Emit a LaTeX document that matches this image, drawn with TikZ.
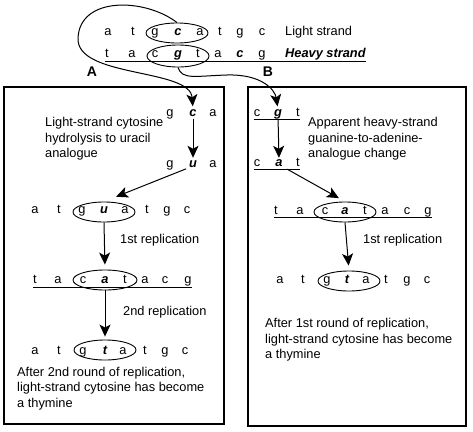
\documentclass[tikz,border=0pt]{standalone}
\usepackage{fontspec}
\setmainfont{Liberation Sans}
\usetikzlibrary{arrows.meta, shapes.geometric}
\tikzstyle{letter} = [
    inner sep=0pt,
    text height=7pt,
    text depth=0pt,
    font=\fontsize{12.8}{15.6}\selectfont
]
\tikzstyle{hit} = [
    letter,
    font=\fontsize{12.8}{15.6}\selectfont\bfseries\itshape
]
\tikzstyle{ring} = [
    ellipse,
    draw=black,
    line width=0.9pt,
    inner sep=0pt,
    minimum width=62pt,
    minimum height=20pt
]
% base of a note = baseline of its last line
\tikzstyle{note} = [
    inner sep=0pt,
    anchor=base west,
    align=left,
    font=\fontsize{12.8}{15.6}\selectfont
]
\tikzstyle{tag} = [
    inner sep=0pt,
    font=\fontsize{14}{16}\selectfont\bfseries
]
\tikzstyle{flow} = [
    line width=1pt,
    -{Stealth[length=12pt, width=11pt, inset=3pt]}
]
\tikzstyle{panel} = [line width=1.1pt]
\tikzstyle{rule} = [line width=0.8pt]

\begin{document}
\begin{tikzpicture}[x=1pt, y=-1pt]
\useasboundingbox (0,0) rectangle (473,431);

% the two strands at the top
\foreach \x/\ch/\s [count=\i] in {108/a/letter,133/t/letter,155/g/letter,178/c/hit,200/a/letter,220/t/letter,240/g/letter,262/c/letter}
    \node[\s] (L\i) at (\x,32) {\ch};
\foreach \x/\ch/\s [count=\i] in {107/t/letter,132/a/letter,155/c/letter,178/g/hit,198/t/letter,218/a/letter,240/c/hit,262/g/letter}
    \node[\s] (H\i) at (\x,54) {\ch};
\node[letter, anchor=west] (light) at (285,32) {Light strand};
\node[hit, anchor=west] (heavy) at (285,54) {Heavy strand};
\draw[rule] ([yshift=-3.5pt]H1.south west) -- ([yshift=-3.5pt]heavy.south east);
\node[ring] (top) at (177,33) {};
\node[ring, minimum height=22pt] (bottom) at (178,56) {};

\node[tag] (labA) at (92,72) {A};
\node[tag] (labB) at (268,72) {B};

% panels
\draw[panel] (4,87) rectangle (224,424);
\draw[panel] (248,87) rectangle (466,426);

% panel A
\foreach \x/\ch/\s [count=\i] in {170/g/letter,193/c/hit,213/a/letter}
    \node[\s] (A\i) at (\x,113) {\ch};
\foreach \x/\ch/\s [count=\i] in {170/g/letter,193/u/hit,213/a/letter}
    \node[\s] (U\i) at (\x,164) {\ch};
\node[note] (hydro) at (45,157.7) {Light-strand cytosine\\hydrolysis to uracil\\analogue};

\foreach \x/\ch/\s [count=\i] in {35/a/letter,59/t/letter,82/g/letter,104/u/hit,125/a/letter,147/t/letter,167/g/letter,187/c/letter}
    \node[\s] (S\i) at (\x,210) {\ch};
\node[ring] (ringS) at (104,212) {};
\node[note] (repA1) at (120,243.5) {1st replication};

\foreach \x/\ch/\s [count=\i] in {35/t/letter,58/a/letter,83/c/letter,105/a/hit,125/t/letter,145/a/letter,165/c/letter,188/g/letter}
    \node[\s] (D\i) at (\x,280) {\ch};
\draw[rule] ([yshift=-3.5pt]D1.south west) -- ([yshift=-3.5pt]D8.south east);
\node[ring, minimum width=64pt] (ringD) at (105,280) {};
\node[note] (repA2) at (123,315.5) {2nd replication};

\foreach \x/\ch/\s [count=\i] in {35/a/letter,59/t/letter,83/g/letter,105/t/hit,123/a/letter,145/t/letter,165/g/letter,185/c/letter}
    \node[\s] (T\i) at (\x,351) {\ch};
\node[ring] (ringT) at (105,350) {};
\node[note] (afterA) at (17,407.2) {After 2nd round of replication,\\light-strand cytosine has become\\a thymine};

% panel B
\foreach \x/\ch/\s [count=\i] in {257/c/letter,278/g/hit,298/t/letter}
    \node[\s] (B\i) at (\x,113) {\ch};
\draw[rule] ([yshift=-2.5pt]B1.south west) -- ([yshift=-2.5pt]B3.south east);
\foreach \x/\ch/\s [count=\i] in {257/c/letter,279/a/hit,298/t/letter}
    \node[\s] (C\i) at (\x,163) {\ch};
\draw[rule] ([yshift=-2.5pt]C1.south west) -- ([yshift=-2.5pt]C3.south east);
\node[note] (apparent) at (308,157.7) {Apparent heavy-strand\\guanine-to-adenine-\\analogue change};

\foreach \x/\ch/\s [count=\i] in {276/t/letter,300/a/letter,325/c/letter,345/a/hit,365/t/letter,385/a/letter,407/c/letter,428/g/letter}
    \node[\s] (R\i) at (\x,211) {\ch};
\draw[rule] ([yshift=-2.5pt]R1.south west) -- ([yshift=-2.5pt]R8.south east);
\node[ring] (ringR) at (345,212) {};
\node[note] (repB1) at (363,243.5) {1st replication};

\foreach \x/\ch/\s [count=\i] in {280/a/letter,303/t/letter,327/g/letter,347/t/hit,366/a/letter,386/t/letter,407/g/letter,427/c/letter}
    \node[\s] (Q\i) at (\x,280) {\ch};
\node[ring] (ringQ) at (349,281) {};
\node[note] (afterB) at (265,358.7) {After 1st round of replication,\\light-strand cytosine has become\\a thymine};

% connectors
\draw[flow, shorten >=3pt] (top.north) .. controls (145,-2) and (80,-4) .. (78,38)
    .. controls (76,78) and (190,68) .. (A2.north);
\draw[flow, shorten >=3pt] (bottom.south) .. controls (182,80) and (195,76) .. (227,75)
    .. controls (262,74) and (275,90) .. (B2.north);

\draw[flow, shorten <=2pt, shorten >=2.5pt] (A2.south) -- (U2.north);
\draw[flow, shorten <=3pt, shorten >=13pt] (U2.south west) -- (ringS.north);
\draw[flow, shorten >=5pt] (ringS.south) -- (ringD.north);
\draw[flow, shorten >=3pt] (ringD.south) -- (ringT.north);

\draw[flow, shorten <=3pt, shorten >=1.5pt] (B2.south) -- (C2.north);
\draw[flow, shorten <=5pt, shorten >=7pt] (C2.south east) -- (ringR.north);
\draw[flow, shorten >=5pt] (ringR.south) -- (ringQ.north);
\end{tikzpicture}
\end{document}
